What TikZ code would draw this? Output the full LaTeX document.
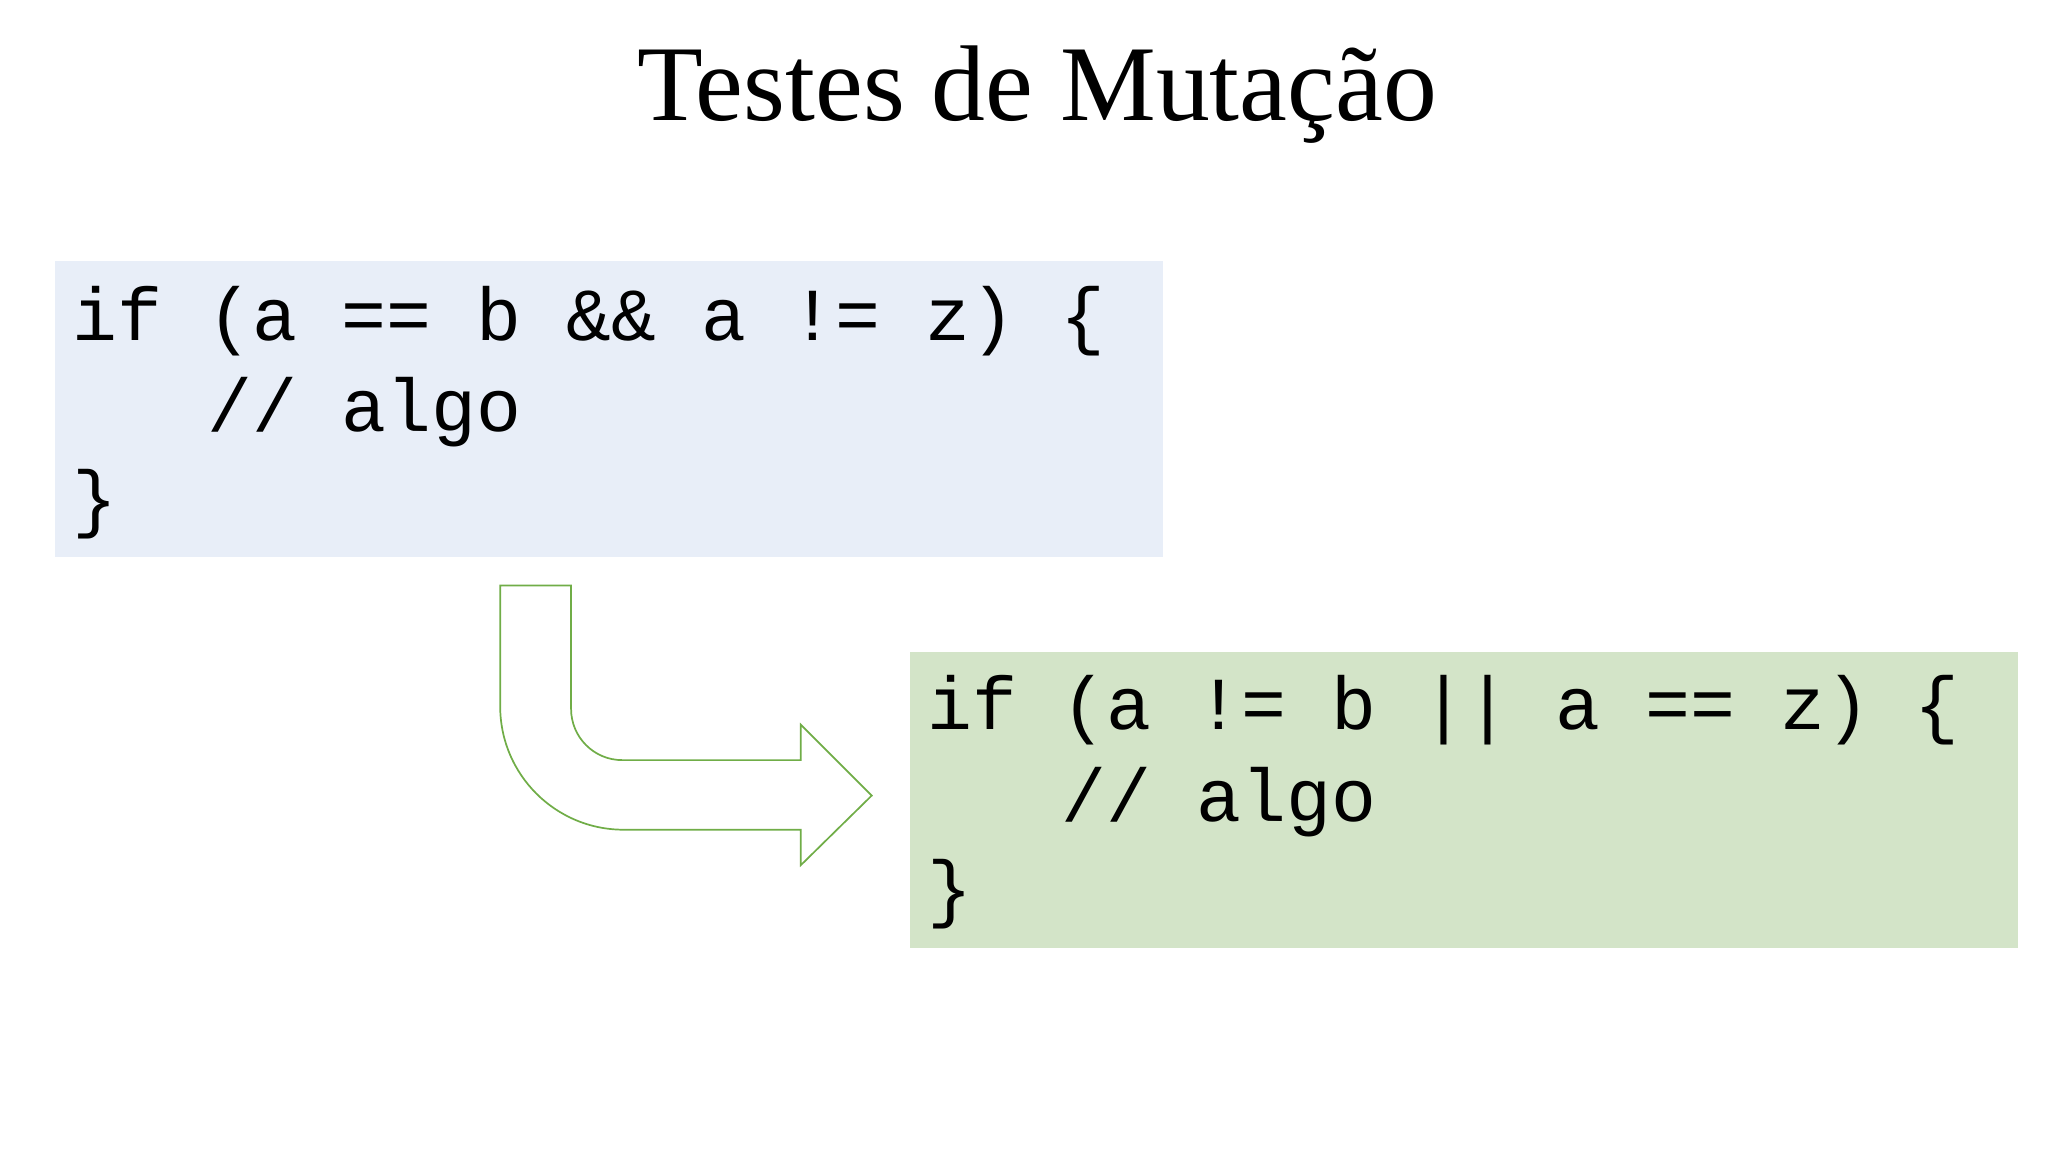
\documentclass[tikz,border=0pt]{standalone}
\usepackage{fontspec}
\setmainfont{Liberation Serif}
\newfontfamily\codefont{Liberation Mono}
\definecolor{bluebox}{HTML}{E8EEF8}
\definecolor{greenbox}{HTML}{D3E4C8}
\definecolor{arrowgreen}{HTML}{70AD47}
\begin{document}
\begin{tikzpicture}[x=1pt,y=-1pt,
  codeline/.style={anchor=base west,inner sep=0pt,font=\codefont\fontsize{57}{68}\selectfont}]
\useasboundingbox (0,0) rectangle (1560,877.5);
\fill[white] (0,0) rectangle (1560,877.5);
\node[anchor=base,inner sep=0pt,font=\fontsize{82}{90}\selectfont] (title) at (790,92) {Testes de Mutação};
\fill[bluebox] (42,199) rectangle (886,424);
\node[codeline] (b1) at (55,259) {if (a == b \&\& a != z) \{};
\node[codeline] (b2) at (55,329) {\ \ \ // algo};
\node[codeline] (b3) at (55,399) {\}};
\fill[greenbox] (693,497) rectangle (1537,722);
\node[codeline] (g1) at (706,556) {if (a != b || a == z) \{};
\node[codeline] (g2) at (706,626) {\ \ \ // algo};
\node[codeline] (g3) at (706,696) {\}};
\draw[arrowgreen,line width=1.3pt,line join=miter]
  (381,446) -- (435,446) -- (435,540) arc[start angle=180,end angle=90,radius=39]
  -- (610,579) -- (610,552) -- (664,606) -- (610,659) -- (610,632) -- (475,632)
  arc[start angle=90,end angle=180,radius=94] -- cycle;
\end{tikzpicture}
\end{document}
